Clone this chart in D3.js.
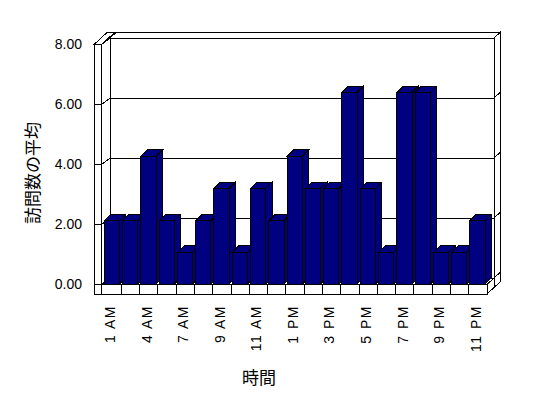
<!DOCTYPE html>
<html>
<head>
<meta charset="utf-8">
<script src="https://cdn.jsdelivr.net/npm/d3@7"></script>
<style>
  body { margin: 0; background: #fff; }
  svg { display: block; }
  polygon, line { shape-rendering: crispEdges; }
  .tick text { font-family: "Liberation Sans", Arial, sans-serif; font-size: 14px; fill: #000; }
  .title { font-family: "Noto Sans CJK JP", sans-serif; font-size: 17px; fill: #000; }
</style>
</head>
<body>
<svg width="548" height="398"></svg>
<script>
// hours shown on the x axis (only every other one gets a label)
var categories = ['1 AM', '2 AM', '4 AM', '5 AM', '7 AM', '8 AM', '9 AM', '10 AM', '11 AM', '12 PM',
    '1 PM', '2 PM', '3 PM', '4 PM', '5 PM', '6 PM', '7 PM', '8 PM', '9 PM', '10 PM', '11 PM'];
// average number of visits per hour
var visits = [2.13, 2.13, 4.27, 2.13, 1.07, 2.13, 3.2, 1.07, 3.2, 2.13, 4.27,
    3.2, 3.2, 6.4, 3.2, 1.07, 6.4, 6.4, 1.07, 1.07, 2.13];
var yTicks = [0, 2, 4, 6, 8];

var svg = d3.select('svg');

// front plane of the plot and 3d offsets
var x0 = 103, x1 = 487;
var DX = 7, DY = -6.5;      // floor depth
var TX = 6, TY = -5.5;      // back wall thickness
var wallOut = 94, wallIn = 101.5;
var floorBottom = 294;

var x = d3.scaleBand().domain(categories).range([x0, x1]);
var y = d3.scaleLinear().domain([0, 8]).range([284.5, 44.5]);
var bw = x.bandwidth();

function poly(pts, fill) {
    return svg.append('polygon')
        .attr('points', pts.map(function(p) { return p.join(','); }).join(' '))
        .attr('fill', fill)
        .attr('stroke', '#000')
        .attr('stroke-width', 1)
        .attr('stroke-linejoin', 'miter');
}
function line(a, b) {
    svg.append('line')
        .attr('x1', a[0]).attr('y1', a[1]).attr('x2', b[0]).attr('y2', b[1])
        .attr('stroke', '#000').attr('stroke-width', 1);
}

var yTop = y(8), yBot = y(0);

// back wall: top, right side, front face
poly([[x0 + DX, yTop + DY], [x1 + DX, yTop + DY], [x1 + DX + TX, yTop + DY + TY], [x0 + DX + TX, yTop + DY + TY]], '#fff');
poly([[x1 + DX, yTop + DY], [x1 + DX + TX, yTop + DY + TY], [x1 + DX + TX, floorBottom + DY + TY], [x1 + DX, floorBottom + DY]], '#fff');
poly([[x0 + DX, yTop + DY], [x1 + DX, yTop + DY], [x1 + DX, yBot + DY], [x0 + DX, yBot + DY]], '#fff');

// left wall: top, inner face
poly([[wallOut, yTop], [wallIn, yTop], [wallIn + DX + TX, yTop + DY + TY], [wallOut + DX + TX, yTop + DY + TY]], '#fff');
poly([[wallIn, yTop], [x0 + DX, yTop + DY], [x0 + DX, yBot + DY], [wallIn, yBot]], '#fff');

// floor: top, right side, front face, then left wall front
poly([[wallIn, yBot], [x1, yBot], [x1 + DX, yBot + DY], [x0 + DX, yBot + DY]], '#fff');
poly([[x1, yBot], [x1 + DX, yBot + DY], [x1 + DX, floorBottom + DY], [x1, floorBottom]], '#fff');
poly([[wallOut, yBot], [x1, yBot], [x1, floorBottom], [wallOut, floorBottom]], '#fff');
poly([[wallOut, yTop], [wallIn, yTop], [wallIn, floorBottom], [wallOut, floorBottom]], '#fff');

// category divisions on the floor front
categories.forEach(function(c, i) {
    if (i > 0) line([x(c), yBot], [x(c), floorBottom]);
});

// gridlines across left wall, back wall and right edge
yTicks.forEach(function(v) {
    var yf = y(v), yb = y(v) + DY;
    line([wallOut, yf], [wallIn, yf]);
    line([wallIn, yf], [x0 + DX, yb]);
    line([x0 + DX, yb], [x1 + DX, yb]);
    line([x1 + DX, yb], [x1 + DX + TX, yb + TY]);
});

// bars
var bdx = 6.5, bdy = -6.5;
var bars = svg.append('g');
categories.forEach(function(c, i) {
    var bx = x(c) + bw * 0.07, w = bw * 0.83;
    var yt = y(visits[i]), yb = yBot - 0.5;
    var g = bars.append('g');
    function p(pts) {
        g.append('polygon')
            .attr('points', pts.map(function(q) { return q.join(','); }).join(' '))
            .attr('fill', '#000080').attr('stroke', '#000').attr('stroke-width', 1);
    }
    p([[bx + w, yt], [bx + w + bdx, yt + bdy], [bx + w + bdx, yb + bdy], [bx + w, yb]]);
    p([[bx, yt], [bx + w, yt], [bx + w + bdx, yt + bdy], [bx + bdx, yt + bdy]]);
    p([[bx, yt], [bx + w, yt], [bx + w, yb], [bx, yb]]);
});

// y axis labels
var yAxis = d3.axisLeft(y).tickValues(yTicks).tickFormat(d3.format('.2f')).tickSize(0).tickPadding(12);
var yg = svg.append('g').attr('transform', 'translate(' + wallOut + ',0)').call(yAxis);
yg.select('.domain').remove();

// x axis labels, every other hour
var xAxis = d3.axisBottom(x).tickValues(categories.filter(function(d, i) { return i % 2 === 0; })).tickSize(0);
var xg = svg.append('g').attr('transform', 'translate(0,' + floorBottom + ')').call(xAxis);
xg.select('.domain').remove();
xg.selectAll('.tick text')
    .attr('transform', 'rotate(-90)')
    .attr('text-anchor', 'end')
    .attr('x', -11)
    .attr('y', -2)
    .attr('dy', '0.35em')
    .style('letter-spacing', '1.5px');

// axis titles
svg.append('text').attr('class', 'title')
    .attr('transform', 'translate(31,173) rotate(-90)')
    .attr('text-anchor', 'middle')
    .attr('dominant-baseline', 'central')
    .text('訪問数の平均');
svg.append('text').attr('class', 'title')
    .attr('x', 259).attr('y', 376)
    .attr('text-anchor', 'middle')
    .attr('dominant-baseline', 'central')
    .text('時間');
</script>
</body>
</html>
